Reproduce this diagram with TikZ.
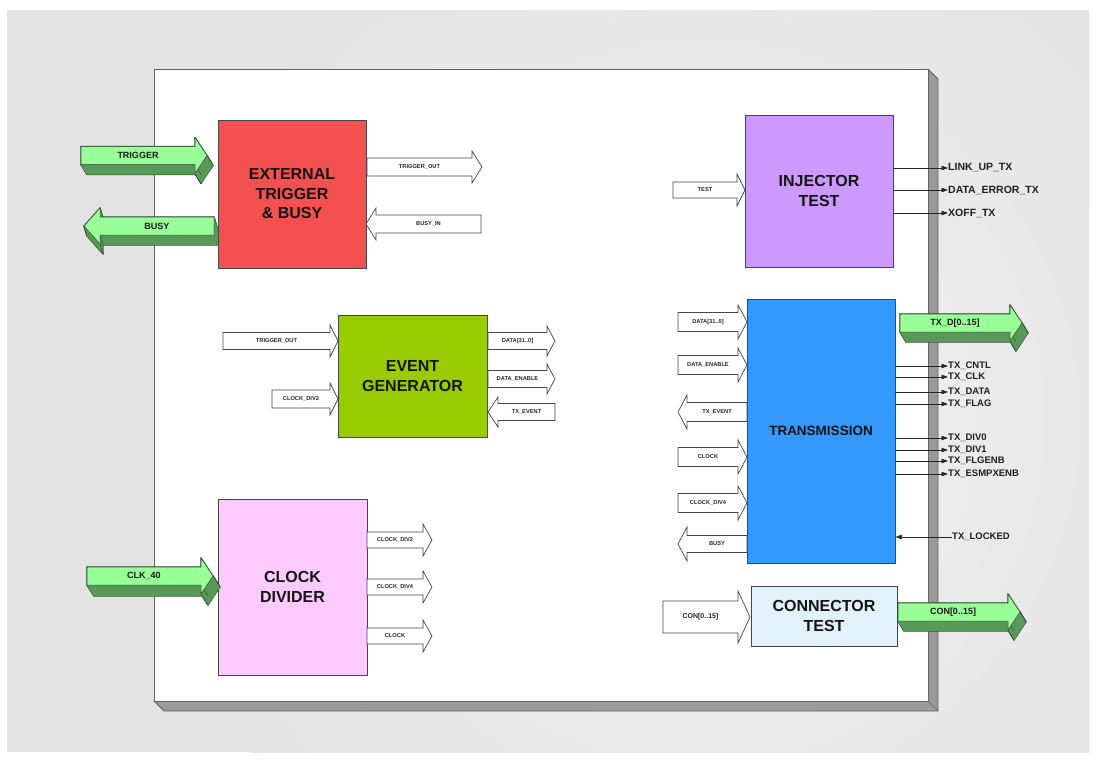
\documentclass[tikz,border=0pt]{standalone}
\usepackage{fontspec}
\setmainfont{Liberation Sans}
\usetikzlibrary{arrows.meta}

\definecolor{bgouter}{RGB}{227,227,227}
\definecolor{bginner}{RGB}{244,244,244}
\definecolor{frameshadow}{RGB}{154,154,154}
\definecolor{frameline}{RGB}{100,100,100}
\definecolor{extred}{RGB}{245,80,80}
\definecolor{evgreen}{RGB}{153,204,0}
\definecolor{divpink}{RGB}{252,202,252}
\definecolor{injpurple}{RGB}{204,153,255}
\definecolor{txblue}{RGB}{51,153,255}
\definecolor{conblue}{RGB}{226,242,250}
\definecolor{busface}{RGB}{153,255,153}
\definecolor{busside}{RGB}{88,152,88}
\definecolor{busline}{RGB}{45,75,45}
\definecolor{edge}{RGB}{70,70,70}

% soft radial haze: outer colour reached at the rim of the shaded circle
\pgfdeclareradialshading{backhaze}{\pgfpointorigin}%
  {color(0bp)=(bginner); color(25bp)=(bgouter); color(50bp)=(bgouter)}

\tikzset{
  block/.style={draw=edge, line width=0.9pt, inner sep=0pt, align=center,
    font=\fontsize{16}{19.5}\selectfont\bfseries, text=black!92},
  warrow/.style={draw=edge, fill=white, line width=0.7pt, line join=miter},
  wlabel/.style={font=\fontsize{5.7}{6}\selectfont\bfseries, text=black!85, inner sep=0pt},
  glabel/.style={font=\fontsize{9}{10}\selectfont\bfseries, text=black!90, inner sep=0pt},
  sig/.style={font=\fontsize{9.5}{10}\selectfont\bfseries, text=black!88, anchor=west, inner sep=0pt},
  sigline/.style={line width=0.7pt, draw=black!85, -{Triangle[length=6.5pt,width=4.5pt]}},
}

% hollow signal arrow: name, tail x, tip x, centre y, shaft half, head half, head length, label
\newcommand\sigarrow[8]{%
  \pgfmathsetmacro\sdir{(#3>#2)?1:-1}%
  \pgfmathsetmacro\shb{#3-\sdir*#7}%
  \draw[warrow] (#2,#4-#5) -- (\shb,#4-#5) -- (\shb,#4-#6) -- (#3,#4)
    -- (\shb,#4+#6) -- (\shb,#4+#5) -- (#2,#4+#5) -- cycle;
  \node[wlabel] (#1) at ({(#2+\shb)/2},#4) {#8};
}

% solid green bus arrow: name, tail x, tip x, centre y, head length, depth dx, depth dy, label
\newcommand\busarrow[8]{%
  \pgfmathsetmacro\bdir{(#3>#2)?1:-1}%
  \pgfmathsetmacro\bhb{#3-\bdir*#5}%
  \coordinate (#1-p1) at (#2,#4-9);
  \coordinate (#1-p2) at (\bhb,#4-9);
  \coordinate (#1-p3) at (\bhb,#4-18);
  \coordinate (#1-p4) at (#3,#4);
  \coordinate (#1-p5) at (\bhb,#4+18);
  \coordinate (#1-p6) at (\bhb,#4+9);
  \coordinate (#1-p7) at (#2,#4+9);
  \foreach \i/\j in {1/2,2/3,3/4,4/5,5/6,6/7,7/1}{
    \draw[busline, line width=1.2pt, line join=round] (#1-p\i) -- (#1-p\j)
      -- ([shift={(#6,#7)}]#1-p\j) -- ([shift={(#6,#7)}]#1-p\i) -- cycle;
  }
  \foreach \i/\j in {1/2,2/3,3/4,4/5,5/6,6/7,7/1}{
    \fill[busside] (#1-p\i) -- (#1-p\j)
      -- ([shift={(#6,#7)}]#1-p\j) -- ([shift={(#6,#7)}]#1-p\i) -- cycle;
  }
  \draw[busline, line width=0.4pt] (#1-p4) -- ([shift={(#6,#7)}]#1-p4)
    (#1-p5) -- ([shift={(#6,#7)}]#1-p5) (#1-p6) -- ([shift={(#6,#7)}]#1-p6);
  \filldraw[fill=busface, draw=busline, line width=0.5pt, line join=miter]
    (#1-p1) -- (#1-p2) -- (#1-p3) -- (#1-p4) -- (#1-p5) -- (#1-p6) -- (#1-p7) -- cycle;
  \node[glabel] (#1) at ({(#2+\bhb)/2},#4) {#8};
}

\begin{document}
\begin{tikzpicture}[x=1pt, y=-1pt]
\useasboundingbox (0,0) rectangle (1096,761);
\fill[white] (0,0) rectangle (1096,761);

% backdrop
\begin{scope}
  \clip (7,10) rectangle (1089,752);
  \fill[bgouter] (7,10) rectangle (1089,752);
  \shade[shading=backhaze] (700,420) circle [radius=560pt];
\end{scope}

% board with its raised edge
\filldraw[fill=frameshadow, draw=frameline, line width=0.8pt]
  (928,69) -- (938,79) -- (938,711) -- (164,711) -- (154,701) -- cycle;
\draw[frameline, line width=0.6pt] (928,701) -- (938,711);
\node[draw=frameline, fill=white, line width=0.9pt, minimum width=774pt,
  minimum height=632pt, inner sep=0pt] (board) at (541,385) {};

% functional blocks
\node[block, fill=extred, minimum width=148pt, minimum height=148pt] (ext) at (292,194)
  {EXTERNAL\\TRIGGER\\\& BUSY};
\node[block, fill=evgreen, minimum width=149pt, minimum height=122pt] (evgen) at (412.5,376)
  {EVENT\\GENERATOR};
\node[block, fill=divpink, minimum width=149pt, minimum height=176pt] (clkdiv) at (292.5,587)
  {CLOCK\\DIVIDER};
\node[block, fill=injpurple, minimum width=148pt, minimum height=152pt] (inj) at (819,191)
  {INJECTOR\\TEST};
\node[block, fill=txblue, minimum width=148pt, minimum height=264pt,
  font=\fontsize{13.5}{16}\selectfont\bfseries] (trans) at (821,431) {TRANSMISSION};
\node[block, fill=conblue, minimum width=146pt, minimum height=60pt] (contest) at (824,616)
  {CONNECTOR\\TEST};

% external buses
\busarrow{trig}{81}{207}{155.5}{12}{6}{10}{TRIGGER}
\busarrow{busy}{214}{84}{226}{16}{3}{10}{BUSY}
\busarrow{clk}{87}{213}{576}{12}{7}{11}{CLK\_40}
\busarrow{txd}{900}{1022}{323}{12}{6}{10}{TX\_D[0..15]}
\busarrow{conout}{898}{1020}{612}{12}{6}{10}{CON[0..15]}

% external trigger & busy
\sigarrow{tro}{367}{482}{167}{9}{16}{10}{TRIGGER\_OUT}
\sigarrow{bin}{481}{366}{224}{9}{16}{10}{BUSY\_IN}

% event generator
\sigarrow{egtrig}{223}{338}{341}{8.5}{16}{8}{TRIGGER\_OUT}
\sigarrow{egclk}{272}{338}{399}{9}{16}{8}{CLOCK\_DIV2}
\sigarrow{egdata}{488}{555}{341}{8.5}{15}{8}{DATA[31..0]}
\sigarrow{egen}{488}{555}{379}{8.5}{15}{8}{DATA\_ENABLE}
\sigarrow{egtx}{555}{488}{412}{8.5}{15}{10}{TX\_EVENT}

% clock divider
\sigarrow{cddiv2}{367}{432}{540}{8}{16}{9}{CLOCK\_DIV2}
\sigarrow{cddiv4}{367}{432}{587}{8}{16}{9}{CLOCK\_DIV4}
\sigarrow{cdclk}{367}{432}{636}{8}{16}{9}{CLOCK}

% injector test
\sigarrow{injtest}{673}{745}{190}{8}{16}{8}{TEST}

% transmission inputs / outputs
\sigarrow{trdata}{678}{747}{322}{9.5}{17}{9}{DATA[31..0]}
\sigarrow{tren}{678}{747}{365}{9.5}{17}{9}{DATA\_ENABLE}
\sigarrow{trtx}{747}{678}{412}{9.5}{17}{9}{TX\_EVENT}
\sigarrow{trclk}{678}{747}{457}{9.5}{17}{9}{CLOCK}
\sigarrow{trdiv4}{678}{747}{503}{9.5}{17}{9}{CLOCK\_DIV4}
\sigarrow{trbusy}{747}{678}{544}{8.5}{17}{9}{BUSY}

% connector test
\sigarrow{conin}{663}{750}{617}{16}{26}{12}{\fontsize{7}{8}\selectfont CON[0..15]}

% injector test status lines
\node[sig, font=\fontsize{10.5}{11}\selectfont\bfseries] (linkup) at (948,168) {LINK\_UP\_TX};
\node[sig, font=\fontsize{10.5}{11}\selectfont\bfseries] (dataerr) at (948,190) {DATA\_ERROR\_TX};
\node[sig, font=\fontsize{10.5}{11}\selectfont\bfseries] (xoff) at (948,213) {XOFF\_TX};
\foreach \s in {linkup,dataerr,xoff}
  \draw[sigline] (inj.east |- \s.west) -- (\s.west);

% transmission status lines
\node[sig] (cntl) at (948,366) {TX\_CNTL};
\node[sig] (txclk) at (948,377) {TX\_CLK};
\node[sig] (txdata) at (948,392) {TX\_DATA};
\node[sig] (txflag) at (948,404) {TX\_FLAG};
\node[sig] (div0) at (948,438) {TX\_DIV0};
\node[sig] (div1) at (948,450) {TX\_DIV1};
\node[sig] (flgenb) at (948,461) {TX\_FLGENB};
\node[sig] (esmp) at (948,474) {TX\_ESMPXENB};
\foreach \s in {cntl,txclk,txdata,txflag,div0,div1,flgenb,esmp}
  \draw[sigline] (trans.east |- \s.west) -- (\s.west);

\node[sig] (locked) at (952,537) {TX\_LOCKED};
\draw[sigline] (locked.west) -- (trans.east |- locked.west);
\end{tikzpicture}
\end{document}
